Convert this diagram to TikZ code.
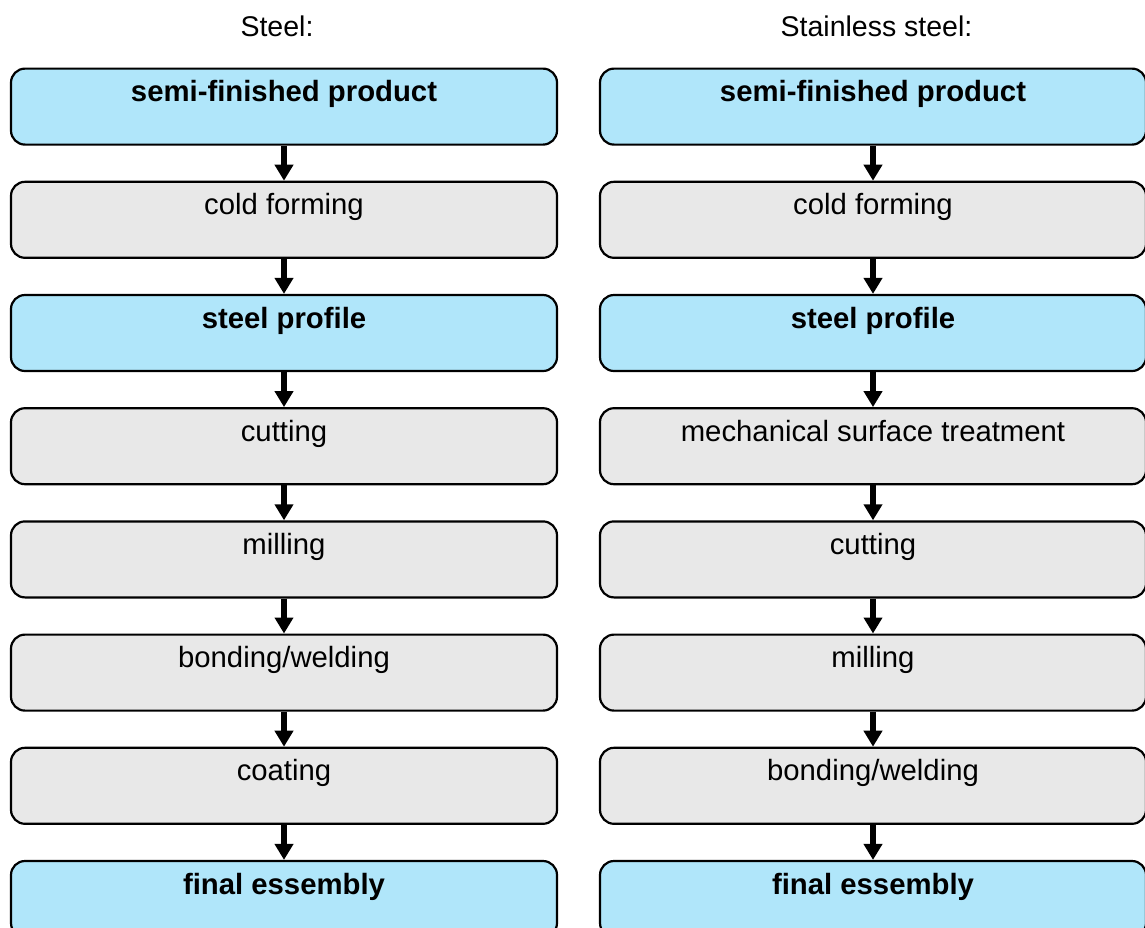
\documentclass[tikz,border=0pt]{standalone}
\usepackage{fontspec}
\setmainfont{Liberation Sans}
\usetikzlibrary{arrows.meta}
\definecolor{prodblue}{RGB}{176,230,250}
\definecolor{stepgrey}{RGB}{232,232,232}
\tikzset{
  basebox/.style={draw=black, line width=2.2pt, rounded corners=14pt,
    minimum width=546pt, minimum height=76pt, inner sep=0pt,
    text height=33pt, text depth=43pt, anchor=north,
    font=\fontsize{29.3}{35}\selectfont},
  prodbox/.style={basebox, fill=prodblue, font=\fontsize{29.3}{35}\selectfont\bfseries},
  stepbox/.style={basebox, fill=stepgrey},
  flowarrow/.style={line width=5.5pt, -{Triangle[width=18pt,length=16pt]}},
  coltitle/.style={anchor=base, inner sep=0pt, font=\fontsize{28.5}{34}\selectfont}
}
\begin{document}
\begin{tikzpicture}[x=1pt,y=-1pt]
\clip (0,0) rectangle (1145,927);
\fill[white] (0,0) rectangle (1145,927);
\node[coltitle] (tl) at (277,36.7) {Steel:};
\node[coltitle] (tr) at (876.5,36.7) {Stainless steel:};
% left column
\node[prodbox] (l0) at (284,67.5) {semi-finished product};
\node[stepbox] (l1) at (284,180.7) {cold forming};
\node[prodbox] (l2) at (284,293.9) {steel profile};
\node[stepbox] (l3) at (284,407.1) {cutting};
\node[stepbox] (l4) at (284,520.3) {milling};
\node[stepbox] (l5) at (284,633.5) {bonding/welding};
\node[stepbox] (l6) at (284,746.7) {coating};
\node[prodbox] (l7) at (284,859.9) {final essembly};
% right column
\node[prodbox] (r0) at (873,67.5) {semi-finished product};
\node[stepbox] (r1) at (873,180.7) {cold forming};
\node[prodbox] (r2) at (873,293.9) {steel profile};
\node[stepbox] (r3) at (873,407.1) {mechanical surface treatment};
\node[stepbox] (r4) at (873,520.3) {cutting};
\node[stepbox] (r5) at (873,633.5) {milling};
\node[stepbox] (r6) at (873,746.7) {bonding/welding};
\node[prodbox] (r7) at (873,859.9) {final essembly};
\foreach \a/\b in {0/1,1/2,2/3,3/4,4/5,5/6,6/7}{
  \draw[flowarrow] (l\a.south) -- (l\b.north);
  \draw[flowarrow] (r\a.south) -- (r\b.north);
}
\end{tikzpicture}
\end{document}
